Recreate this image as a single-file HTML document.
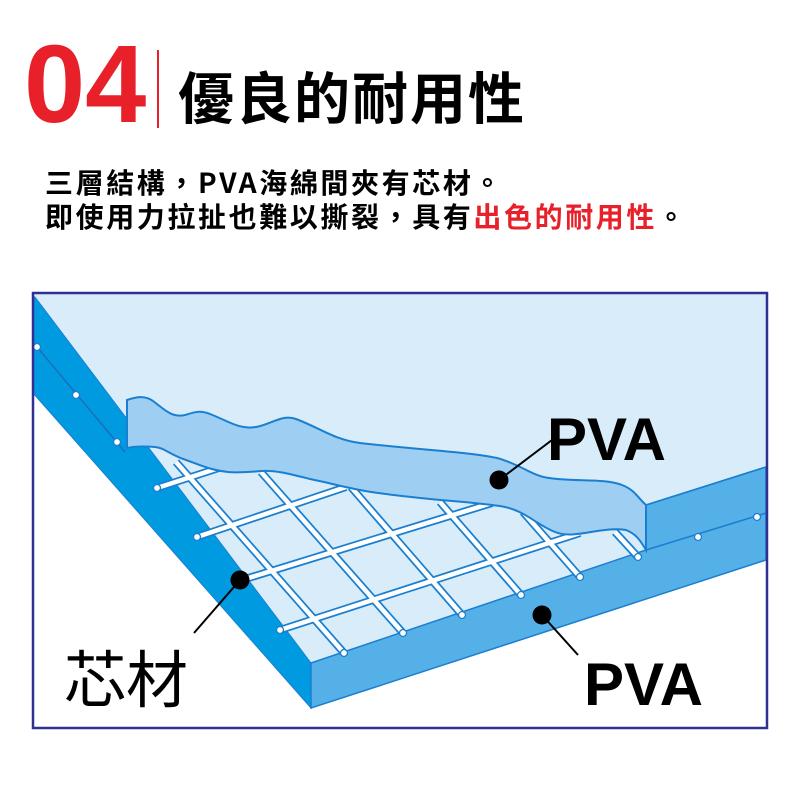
<!DOCTYPE html>
<html><head><meta charset="utf-8"><style>
body{margin:0;width:800px;height:800px;background:#fff;overflow:hidden;position:relative;font-family:"Liberation Sans","Noto Sans CJK TC",sans-serif}
.num{position:absolute;left:24px;top:30px;font-size:110px;color:#e8202a;line-height:1;font-family:"Liberation Sans",sans-serif;font-weight:bold}
.bar{position:absolute;left:157px;top:50px;width:2px;height:78px;background:#e8202a}
.title{position:absolute;left:178px;top:68px;font-size:56px;font-weight:bold;line-height:1;font-family:"Noto Sans CJK TC",sans-serif;letter-spacing:2px}
.t{position:absolute;left:45px;font-size:28px;font-weight:bold;line-height:1;font-family:"Noto Sans CJK TC",sans-serif;letter-spacing:2.6px;white-space:nowrap}
.r{color:#e8202a}
svg{position:absolute;left:0;top:0}
</style></head><body>
<div class="num">04</div><div class="bar"></div>
<div class="title">優良的耐用性</div>
<div class="t" style="top:168px">三層結構，PVA海綿間夾有芯材。</div>
<div class="t" style="top:202px">即使用力拉扯也難以撕裂，具有<span class="r">出色的耐用性</span>。</div>
<svg width="800" height="800" viewBox="0 0 800 800">
<rect x="33" y="293" width="734" height="435" fill="#fff"/>
<polygon points="33,293 767,293 767,467 646,505 646,550 311,663 33,297" fill="#d9ecfa"/>
<polygon points="35,297 311,663 311,708 33,393 33,297" fill="#009ae0" stroke="#1a7fd0" stroke-width="1"/>
<polygon points="311,663 646,550 646,505 766,467 766,560 311,708" fill="#56b0e8" stroke="#1a7fd0" stroke-width="1.5"/>
<line x1="646" y1="505" x2="766" y2="467" stroke="#1a7fd0" stroke-width="1.5"/>
<line x1="646" y1="550" x2="766" y2="513" stroke="#1a7fd0" stroke-width="1.5"/>
<line x1="37" y1="347" x2="125" y2="452" stroke="#1a6fb8" stroke-width="1.5"/>
<g fill="#fff" stroke="#1a7fd0" stroke-width="1.3">
<circle cx="37" cy="347" r="3.5"/><circle cx="76" cy="395" r="3.5"/><circle cx="117" cy="442" r="3.5"/>
<circle cx="698" cy="537" r="3.5"/><circle cx="757" cy="517" r="3.5"/>
</g>
<g stroke-linecap="butt">
<g stroke="#1a7fd0" stroke-width="8">
<line x1="157" y1="488" x2="225" y2="466"/><line x1="197" y1="537" x2="346" y2="487"/><line x1="242" y1="580" x2="492" y2="503"/><line x1="280" y1="630" x2="580" y2="533"/>
<line x1="176" y1="462" x2="344" y2="653"/><line x1="261" y1="472" x2="403" y2="633"/><line x1="351" y1="487" x2="462" y2="615"/><line x1="440" y1="502" x2="521" y2="595"/><line x1="523" y1="512" x2="580" y2="577"/><line x1="615" y1="532" x2="638" y2="557"/>
</g>
<g stroke="#fff" stroke-width="4.5">
<line x1="157" y1="488" x2="225" y2="466"/><line x1="197" y1="537" x2="346" y2="487"/><line x1="242" y1="580" x2="492" y2="503"/><line x1="280" y1="630" x2="580" y2="533"/>
<line x1="176" y1="462" x2="344" y2="653"/><line x1="261" y1="472" x2="403" y2="633"/><line x1="351" y1="487" x2="462" y2="615"/><line x1="440" y1="502" x2="521" y2="595"/><line x1="523" y1="512" x2="580" y2="577"/><line x1="615" y1="532" x2="638" y2="557"/>
</g>
<g fill="#fff" stroke="#1a7fd0" stroke-width="1.3">
<circle cx="157" cy="488" r="3.5"/><circle cx="197" cy="537" r="3.5"/><circle cx="280" cy="630" r="3.5"/>
<circle cx="344" cy="653" r="3.5"/><circle cx="403" cy="633" r="3.5"/><circle cx="462" cy="615" r="3.5"/><circle cx="521" cy="595" r="3.5"/><circle cx="580" cy="577" r="3.5"/><circle cx="638" cy="557" r="3.5"/>
</g>
</g>
<path d="M127,400 C138,396 146,396 153,401 C165,410 172,418 185,415 C195,412 200,410 210,414 C228,421 240,430 256,427 C272,424 282,414 296,419 C320,428 335,440 360,443 C420,450 470,452 497,458 C520,464 532,476 549,478 C575,482 605,478 622,485 C635,490 638,498 646,505 L646,550 C640,540 636,534 626,530 C600,526 575,540 555,532 C535,524 525,510 500,506 C470,502 450,501 430,499 C390,495 370,492 360,490 C340,486 325,482 310,479 C290,474 275,470 262,471 C248,472 238,473 228,472 C210,470 200,465 186,460 C170,455 165,448 155,447 C143,446 135,446 127,448 Z" fill="#9ecff2" stroke="#1a7fd0" stroke-width="2"/>
<rect x="33" y="293" width="734" height="435" fill="none" stroke="#2e3192" stroke-width="2.5"/>
<g stroke="#000" stroke-width="2">
<line x1="499" y1="480" x2="552" y2="440"/><line x1="542" y1="615" x2="578" y2="655"/><line x1="240" y1="580" x2="194" y2="633"/>
</g>
<g fill="#000"><circle cx="499" cy="480" r="9.5"/><circle cx="542" cy="615" r="9.5"/><circle cx="240" cy="580" r="9.5"/></g>
<text x="547" y="460" font-size="60" font-weight="bold" font-family="Liberation Sans, sans-serif">PVA</text>
<text x="584" y="705" font-size="60" font-weight="bold" font-family="Liberation Sans, sans-serif">PVA</text>
<text x="64" y="702" font-size="62" font-family="Noto Sans CJK TC, sans-serif">芯材</text>
</svg>
</body></html>
